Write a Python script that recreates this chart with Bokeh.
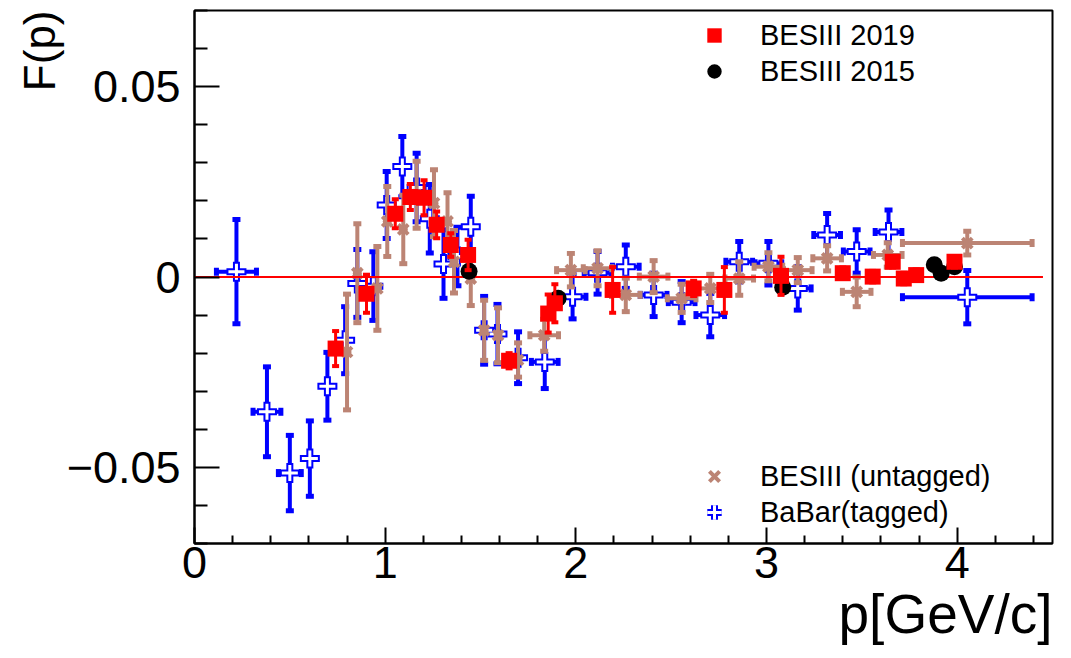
import numpy as np
from bokeh.plotting import figure
from bokeh.models import Range1d, FixedTicker, Legend, LegendItem, Title
from bokeh.embed import file_html
from bokeh.resources import INLINE

# ---- data -------------------------------------------------------------
# BaBar (tagged): p, F(p), dp, dF
babar_p = [0.22, 0.38, 0.50, 0.605, 0.697, 0.79, 0.854, 0.938, 1.008, 1.09,
           1.165, 1.234, 1.306, 1.379, 1.449, 1.519, 1.589, 1.697, 1.837, 1.983,
           2.114, 2.262, 2.408, 2.555, 2.705, 2.857, 3.01, 3.164, 3.318, 3.473,
           3.64, 4.053]
babar_f = [0.0014, -0.0354, -0.0515, -0.0477, -0.0287, -0.0166, -0.0017, -0.0024, 0.0189, 0.029,
           0.0235, 0.0153, 0.0034, 0.0054, 0.0132, -0.014, -0.015, -0.0212, -0.0223, -0.0052,
           0.0011, 0.0027, -0.0047, -0.0066, -0.010, 0.004, 0.0036, -0.003, 0.011, 0.0067,
           0.0118, -0.0053]
babar_dp = [0.105, 0.073, 0.06, 0.0, 0.0, 0.0, 0.0, 0.0, 0.0, 0.0,
            0.0, 0.0, 0.0, 0.0, 0.0, 0.0, 0.0, 0.0, 0.07, 0.07,
            0.07, 0.07, 0.07, 0.07, 0.075, 0.07, 0.07, 0.07, 0.07, 0.07,
            0.07, 0.34]
babar_df = [0.0137, 0.0118, 0.0099, 0.0099, 0.0089, 0.0088, 0.0089, 0.009, 0.0088, 0.0079,
            0.009, 0.009, 0.009, 0.0077, 0.008, 0.0089, 0.0078, 0.0068, 0.007, 0.0058,
            0.0056, 0.0057, 0.0057, 0.0054, 0.0057, 0.0053, 0.0057, 0.0057, 0.0057, 0.0057,
            0.0058, 0.007]

# BESIII (untagged)
untag_p = [0.80, 0.854, 0.959, 1.011, 1.095, 1.165, 1.256, 1.327, 1.361, 1.449,
           1.519, 1.592, 1.697, 1.834, 1.974, 2.114, 2.262, 2.408, 2.555, 2.705,
           2.857, 3.01, 3.164, 3.318, 3.473, 3.636, 4.053]
untag_f = [-0.0197, 0.001, -0.003, 0.0146, 0.0125, 0.0216, 0.0194, 0.0146, 0.004, -0.0004,
           -0.014, -0.0153, -0.0218, -0.0153, 0.0018, 0.0023, -0.0047, 0.0001, -0.0056, -0.003,
           -0.0004, 0.0027, 0.0018, 0.0049, -0.0039, 0.0058, 0.0089]
untag_dp = [0.0, 0.0, 0.0, 0.0, 0.0, 0.0, 0.0, 0.0, 0.0, 0.0,
            0.0, 0.0, 0.0, 0.075, 0.075, 0.075, 0.075, 0.075, 0.075, 0.075,
            0.075, 0.075, 0.075, 0.075, 0.075, 0.075, 0.34]
untag_df = [0.0152, 0.013, 0.011, 0.0092, 0.009, 0.0088, 0.0088, 0.0075, 0.0082, 0.0071,
            0.0079, 0.0072, 0.0045, 0.0042, 0.0044, 0.0046, 0.0044, 0.0042, 0.0037, 0.0037,
            0.0044, 0.0037, 0.0033, 0.0033, 0.0039, 0.0032, 0.0031]

# BESIII 2019
b19_p = [0.74, 0.902, 1.053, 1.132, 1.204, 1.27, 1.344, 1.435, 1.65, 1.855,
         1.89, 2.193, 2.618, 2.779, 3.076, 3.40, 3.557, 3.662, 3.72, 3.785, 3.986]
b19_f = [-0.0188, -0.0044, 0.0166, 0.021, 0.0208, 0.0137, 0.0084, 0.0058, -0.022, -0.0096,
         -0.0069, -0.0034, -0.003, -0.0034, 0.0003, 0.001, 0.0001, 0.004, -0.0004, 0.0005, 0.004]
b19_df = [0.0046, 0.005, 0.0038, 0.0034, 0.0046, 0.0035, 0.0031, 0.004, 0.002, 0.005,
          0.005, 0.006, 0.002, 0.006, 0.005, 0.0015, 0.0015, 0.0015, 0.0015, 0.0015, 0.0015]

# BESIII 2015
b15_p = [1.44, 1.907, 3.085, 3.88, 3.916, 3.986]
b15_f = [0.0015, -0.0056, -0.0027, 0.0032, 0.001, 0.0027]

# horizontal reference at F(p) = 0
zero_p = [0.0, 4.45]
zero_f = [0.0, 0.0]

X_TICKS = [0, 1, 2, 3, 4]
X_MINOR = [0.2, 0.4, 0.6, 0.8, 1.2, 1.4, 1.6, 1.8, 2.2, 2.4, 2.6, 2.8,
           3.2, 3.4, 3.6, 3.8, 4.2, 4.4]
Y_TICKS = [-0.05, 0.0, 0.05]
Y_MINOR = [-0.07, -0.06, -0.04, -0.03, -0.02, -0.01, 0.01, 0.02, 0.03, 0.04, 0.06, 0.07]
Y_LABELS = {-0.05: "\u22120.05", 0.0: "0", 0.05: "0.05"}

FONT = "Liberation Sans"
BROWN = "#bc8474"

# ---- figure -----------------------------------------------------------
p = figure(width=1071, height=658, output_backend="svg", toolbar_location=None,
           x_range=Range1d(0, 4.5), y_range=Range1d(-0.07, 0.07),
           min_border_left=194, min_border_right=19, min_border_top=10,
           min_border_bottom=115)
p.background_fill_color = "white"
p.border_fill_color = "white"
p.outline_line_color = "black"
p.outline_line_width = 2
p.xgrid.visible = False
p.ygrid.visible = False

for ax in (p.xaxis[0], p.yaxis[0]):
    ax.axis_line_width = 2
    ax.major_tick_line_width = 2
    ax.minor_tick_line_width = 2
    ax.major_tick_out = 0
    ax.minor_tick_out = 0
    ax.major_label_text_font = FONT
    ax.major_label_text_font_size = "45px"
    ax.major_label_text_color = "black"

p.xaxis.ticker = FixedTicker(ticks=X_TICKS, minor_ticks=X_MINOR)
p.xaxis.major_tick_in = 16
p.xaxis.minor_tick_in = 8
p.xaxis.major_label_standoff = 3

p.yaxis.ticker = FixedTicker(ticks=Y_TICKS, minor_ticks=Y_MINOR)
p.yaxis.major_label_overrides = Y_LABELS
p.yaxis.major_tick_in = 25
p.yaxis.minor_tick_in = 13
p.yaxis.major_label_standoff = 14


def error_bars(fig, x, y, dx, dy, color, width, cap_long, cap_short):
    x, y, dx, dy = (np.asarray(a, dtype=float) for a in (x, y, dx, dy))
    fig.segment(x, y - dy, x, y + dy, line_color=color, line_width=width)
    fig.rect(np.concatenate([x, x]), np.concatenate([y - dy, y + dy]),
             width=cap_long, height=cap_short, width_units="screen",
             height_units="screen", fill_color=color, line_color=None)
    m = dx > 0
    if m.any():
        xs, ys, dxs = x[m], y[m], dx[m]
        fig.segment(xs - dxs, ys, xs + dxs, ys, line_color=color, line_width=width)
        fig.rect(np.concatenate([xs - dxs, xs + dxs]), np.concatenate([ys, ys]),
                 width=cap_short, height=cap_long, width_units="screen",
                 height_units="screen", fill_color=color, line_color=None)


# BaBar: open blue crosses
error_bars(p, babar_p, babar_f, babar_dp, babar_df, "blue", 4, 8, 5)
r_babar_o = p.scatter(babar_p, babar_f, marker="cross", size=20,
                      line_color="blue", line_width=7)
r_babar_i = p.scatter(babar_p, babar_f, marker="cross", size=16,
                      line_color="white", line_width=3)

# BESIII untagged: brown crosses
error_bars(p, untag_p, untag_f, untag_dp, untag_df, BROWN, 4, 8, 5)
p.scatter(untag_p, untag_f, marker="circle", size=9,
          fill_color=BROWN, line_color=None)
r_untag = p.scatter(untag_p, untag_f, marker="x", size=14,
                    line_color=BROWN, line_width=4)

# zero line
p.line(zero_p, zero_f, line_color="red", line_width=2)

# BESIII 2015: black dots
r_b15 = p.scatter(b15_p, b15_f, marker="circle", size=17,
                  fill_color="black", line_color=None)

# BESIII 2019: red squares
error_bars(p, b19_p, b19_f, [0.0] * len(b19_p), b19_df, "red", 3, 7, 4)
r_b19 = p.scatter(b19_p, b19_f, marker="square", size=16,
                  fill_color="red", line_color=None)

# ---- legends ----------------------------------------------------------
def make_legend(items, loc):
    return Legend(items=items, location=loc, orientation="vertical",
                  border_line_color=None, background_fill_alpha=0.0,
                  padding=0, margin=0, spacing=0,
                  glyph_width=44, glyph_height=36, label_standoff=24,
                  label_text_font=FONT, label_text_font_size="29px",
                  label_text_color="black")


p.add_layout(make_legend([LegendItem(label="BESIII 2019", renderers=[r_b19]),
                          LegendItem(label="BESIII 2015", renderers=[r_b15])],
                         (498, 454)))
p.add_layout(make_legend([LegendItem(label="BESIII (untagged)", renderers=[r_untag]),
                          LegendItem(label="BaBar(tagged)", renderers=[r_babar_o, r_babar_i])],
                         (498, 13)))

# ---- axis titles (ROOT style: at the far ends of the axes) -------------
p.add_layout(Title(text="F(p)", align="right", standoff=0,
                   text_font=FONT, text_font_size="44px",
                   text_font_style="normal", text_color="black"), "left")
p.add_layout(Title(text="p[GeV/c]", align="right", standoff=0,
                   text_font=FONT, text_font_size="55px",
                   text_font_style="normal", text_color="black"), "below")

open("out.html", "w").write(file_html(p, INLINE))
